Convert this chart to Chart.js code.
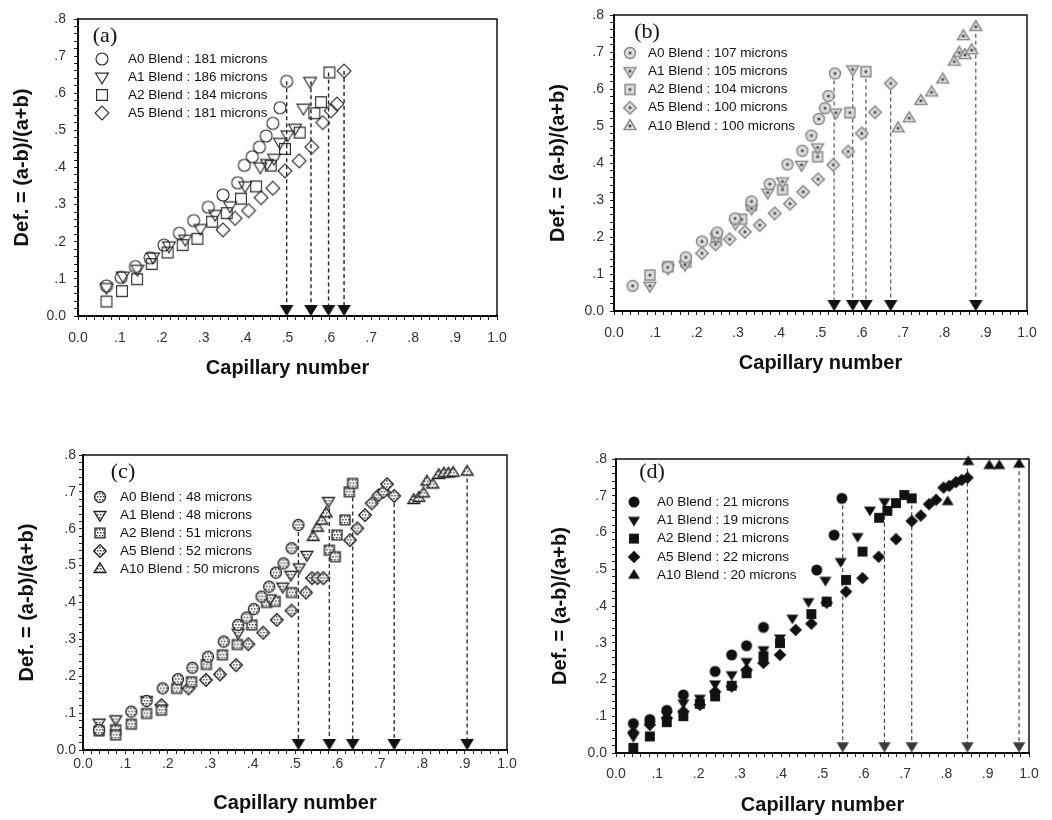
<!DOCTYPE html>
<html>
<head>
<meta charset="utf-8">
<script src="https://cdn.jsdelivr.net/npm/chart.js@4.4.1/dist/chart.umd.min.js"></script>
<style>
html, body { margin: 0; padding: 0; background: #fff; }
#wrap { position: relative; width: 1052px; height: 820px; overflow: hidden; }
canvas { position: absolute; }
</style>
</head>
<body>
<div id="wrap">
  <canvas id="pa" width="520" height="400" style="left:0;top:0"></canvas>
  <canvas id="pb" width="527" height="400" style="left:525px;top:0"></canvas>
  <canvas id="pc" width="520" height="400" style="left:0;top:420px"></canvas>
  <canvas id="pd" width="527" height="400" style="left:525px;top:420px"></canvas>
</div>
<script>
// tick labels shared by all four panels
const xTickLabels = ['0.0', '.1', '.2', '.3', '.4', '.5', '.6', '.7', '.8', '.9', '1.0'];
const yTickLabels = ['0.0', '.1', '.2', '.3', '.4', '.5', '.6', '.7', '.8'];
const arrowLevel = 0.019;

// (a) 181-186 microns
const aLabels = ['A0 Blend : 181 microns', 'A1 Blend : 186 microns', 'A2 Blend : 184 microns', 'A5 Blend : 181 microns'];
const aA0 = [[0.068,0.081],[0.103,0.104],[0.137,0.133],[0.172,0.157],[0.205,0.191],[0.242,0.223],[0.276,0.257],[0.311,0.293],[0.346,0.326],[0.381,0.359],[0.397,0.406],[0.416,0.429],[0.433,0.455],[0.449,0.485],[0.465,0.519],[0.482,0.561],[0.498,0.632]];
const aA1 = [[0.068,0.077],[0.107,0.108],[0.142,0.126],[0.179,0.159],[0.217,0.189],[0.256,0.207],[0.292,0.236],[0.327,0.274],[0.363,0.297],[0.399,0.351],[0.435,0.402],[0.451,0.411],[0.468,0.425],[0.482,0.468],[0.500,0.488],[0.518,0.506],[0.538,0.560],[0.554,0.632]];
const aA2 = [[0.068,0.039],[0.105,0.067],[0.141,0.099],[0.176,0.140],[0.214,0.171],[0.250,0.191],[0.285,0.208],[0.320,0.254],[0.355,0.277],[0.389,0.316],[0.425,0.349],[0.460,0.405],[0.494,0.450],[0.529,0.494],[0.564,0.546],[0.580,0.576],[0.600,0.656]];
const aA5 = [[0.346,0.232],[0.375,0.263],[0.407,0.284],[0.437,0.319],[0.465,0.344],[0.494,0.391],[0.528,0.418],[0.558,0.455],[0.584,0.521],[0.604,0.553],[0.618,0.571],[0.635,0.660]];
const aArrowX = [0.498, 0.556, 0.598, 0.635];
const aArrowTop = [0.632, 0.632, 0.656, 0.660];

// (b) 100-107 microns
const bLabels = ['A0 Blend : 107 microns', 'A1 Blend : 105 microns', 'A2 Blend : 104 microns', 'A5 Blend : 100 microns', 'A10 Blend : 100 microns'];
const bA0 = [[0.045,0.068],[0.130,0.118],[0.174,0.145],[0.213,0.188],[0.250,0.212],[0.293,0.250],[0.333,0.296],[0.377,0.343],[0.420,0.396],[0.456,0.433],[0.478,0.474],[0.496,0.519],[0.511,0.548],[0.519,0.581],[0.535,0.642]];
const bA1 = [[0.087,0.068],[0.131,0.115],[0.172,0.125],[0.248,0.200],[0.294,0.236],[0.333,0.277],[0.372,0.320],[0.408,0.350],[0.454,0.395],[0.493,0.442],[0.537,0.536],[0.578,0.653]];
const bA2 = [[0.087,0.097],[0.131,0.120],[0.174,0.132],[0.248,0.200],[0.309,0.248],[0.333,0.285],[0.408,0.328],[0.493,0.417],[0.571,0.536],[0.610,0.647]];
const bA5 = [[0.213,0.156],[0.246,0.180],[0.280,0.194],[0.317,0.214],[0.353,0.232],[0.389,0.264],[0.426,0.290],[0.458,0.322],[0.494,0.356],[0.531,0.395],[0.567,0.431],[0.600,0.480],[0.632,0.537],[0.670,0.615]];
const bA10 = [[0.688,0.494],[0.715,0.521],[0.743,0.568],[0.769,0.591],[0.796,0.626],[0.824,0.674],[0.836,0.698],[0.850,0.692],[0.866,0.705],[0.846,0.743],[0.876,0.768]];
const bArrowX = [0.533, 0.578, 0.610, 0.670, 0.876];
const bArrowTop = [0.642, 0.653, 0.647, 0.615, 0.768];

// (c) 48-52 microns
const cLabels = ['A0 Blend : 48 microns', 'A1 Blend : 48 microns', 'A2 Blend : 51 microns', 'A5 Blend : 52 microns', 'A10 Blend : 50 microns'];
const cA0 = [[0.038,0.054],[0.114,0.104],[0.150,0.133],[0.188,0.167],[0.224,0.192],[0.258,0.223],[0.295,0.253],[0.332,0.294],[0.366,0.339],[0.386,0.359],[0.403,0.382],[0.421,0.416],[0.439,0.443],[0.455,0.481],[0.473,0.506],[0.492,0.547],[0.508,0.610]];
const cA1 = [[0.038,0.074],[0.077,0.083],[0.150,0.135],[0.366,0.318],[0.441,0.411],[0.471,0.443],[0.490,0.475],[0.510,0.495],[0.528,0.529],[0.579,0.675]];
const cA2 = [[0.038,0.052],[0.077,0.055],[0.077,0.041],[0.114,0.070],[0.150,0.099],[0.185,0.108],[0.221,0.167],[0.256,0.185],[0.291,0.232],[0.329,0.258],[0.364,0.286],[0.398,0.339],[0.433,0.400],[0.453,0.403],[0.492,0.427],[0.581,0.542],[0.595,0.524],[0.599,0.583],[0.618,0.624],[0.628,0.700],[0.636,0.723]];
const cA5 = [[0.185,0.122],[0.249,0.167],[0.290,0.190],[0.323,0.205],[0.361,0.230],[0.390,0.287],[0.425,0.318],[0.457,0.353],[0.492,0.378],[0.526,0.427],[0.540,0.466],[0.553,0.466],[0.567,0.466],[0.630,0.569],[0.647,0.601],[0.665,0.637],[0.681,0.669],[0.697,0.691],[0.709,0.700],[0.717,0.721],[0.734,0.689]];
const cA10 = [[0.543,0.578],[0.553,0.603],[0.563,0.622],[0.573,0.642],[0.780,0.678],[0.792,0.684],[0.803,0.696],[0.811,0.728],[0.825,0.720],[0.839,0.746],[0.851,0.750],[0.862,0.750],[0.873,0.752],[0.906,0.755]];
const cArrowX = [0.508, 0.581, 0.636, 0.734, 0.906];
const cArrowTop = [0.610, 0.675, 0.723, 0.689, 0.755];

// (d) 19-22 microns
const dLabels = ['A0 Blend : 21 microns', 'A1 Blend : 19 microns', 'A2 Blend : 21 microns', 'A5 Blend : 22 microns', 'A10 Blend : 20 microns'];
const dA0 = [[0.042,0.080],[0.082,0.091],[0.123,0.116],[0.163,0.158],[0.240,0.222],[0.280,0.267],[0.316,0.292],[0.357,0.342],[0.486,0.498],[0.528,0.593],[0.547,0.693]];
const dA1 = [[0.042,0.045],[0.082,0.077],[0.123,0.104],[0.163,0.136],[0.203,0.149],[0.240,0.188],[0.280,0.213],[0.316,0.249],[0.357,0.281],[0.397,0.313],[0.427,0.367],[0.466,0.412],[0.507,0.470],[0.544,0.521],[0.585,0.589],[0.615,0.661],[0.650,0.684]];
const dA2 = [[0.042,0.014],[0.082,0.045],[0.123,0.084],[0.163,0.100],[0.203,0.134],[0.240,0.154],[0.280,0.183],[0.316,0.217],[0.357,0.263],[0.397,0.299],[0.473,0.378],[0.510,0.412],[0.557,0.471],[0.597,0.548],[0.637,0.640],[0.657,0.659],[0.678,0.680],[0.698,0.702],[0.716,0.693]];
const dA5 = [[0.042,0.056],[0.082,0.077],[0.123,0.095],[0.163,0.113],[0.203,0.131],[0.240,0.167],[0.280,0.181],[0.316,0.226],[0.357,0.245],[0.397,0.267],[0.435,0.335],[0.473,0.352],[0.510,0.409],[0.557,0.439],[0.597,0.476],[0.636,0.534],[0.678,0.582],[0.716,0.631],[0.738,0.646],[0.758,0.677],[0.775,0.689],[0.793,0.722],[0.807,0.727],[0.823,0.737],[0.837,0.743],[0.851,0.749]];
const dA10 = [[0.803,0.684],[0.853,0.793],[0.904,0.782],[0.928,0.782],[0.976,0.786]];
const dArrowX = [0.549, 0.650, 0.716, 0.851, 0.976];
const dArrowTop = [0.693, 0.684, 0.693, 0.793, 0.786];

const fam = '"Liberation Sans", Arial, sans-serif';

// small canvas markers, used both in the plot and in the legend
function marker(shape, o) {
  const s = o.size || 16, r = o.r || 5.5, m = s / 2;
  const c = document.createElement('canvas');
  c.width = s; c.height = s;
  const g = c.getContext('2d');
  g.beginPath();
  if (shape === 'circle') g.arc(m, m, r, 0, Math.PI * 2);
  else if (shape === 'square') g.rect(m - r * 0.9, m - r * 0.9, r * 1.8, r * 1.8);
  else if (shape === 'diamond') {
    g.moveTo(m, m - r * 1.15); g.lineTo(m + r * 1.15, m);
    g.lineTo(m, m + r * 1.15); g.lineTo(m - r * 1.15, m); g.closePath();
  } else if (shape === 'down') {
    g.moveTo(m - r, m - r * 0.6); g.lineTo(m + r, m - r * 0.6); g.lineTo(m, m + r * 1.05); g.closePath();
  } else if (shape === 'up') {
    g.moveTo(m - r, m + r * 0.6); g.lineTo(m + r, m + r * 0.6); g.lineTo(m, m - r * 1.05); g.closePath();
  }
  if (o.fill) { g.fillStyle = o.fill; g.fill(); }
  if (o.dots) {
    g.save(); g.clip(); g.fillStyle = o.dots;
    for (let y = 1; y < s; y += 3) for (let x = 1 + (y % 2); x < s; x += 3) g.fillRect(x, y, 1.5, 1.5);
    g.restore();
  }
  if (o.dot) { g.fillStyle = o.dot; g.fillRect(m - 1.3, m - 1.3, 2.6, 2.6); }
  if (o.stroke) { g.lineWidth = o.lw || 1.1; g.strokeStyle = o.stroke; g.stroke(); }
  return c;
}

const shapes = ['circle', 'down', 'square', 'diamond', 'up'];
const styleA = { stroke: '#2a2a2a', lw: 1.1, r: 6 };
const styleB = { stroke: '#858585', fill: '#dcdcdc', dot: '#4a4a4a', lw: 1.4, r: 5.5 };
const styleC = { stroke: '#1e1e1e', fill: '#fff', dots: '#3a3a3a', lw: 1.3, r: 5.5 };
const styleD = { fill: '#111', r: 5.5 };
const markSet = st => shapes.map(sh => marker(sh, Object.assign({}, st, { r: sh === 'down' || sh === 'up' ? st.r + 0.5 : st.r })));

function tickFmt(labels) {
  return v => {
    const k = Math.round(v * 50);
    return k % 5 === 0 ? labels[k / 5] : '';
  };
}

const inlineLegend = {
  id: 'inlineLegend',
  afterDraw(chart, args, o) {
    const { ctx, chartArea: a } = chart;
    ctx.save();
    ctx.strokeStyle = '#111';
    ctx.lineWidth = 1.5;
    ctx.strokeRect(a.left, a.top, a.right - a.left, a.bottom - a.top);
    ctx.fillStyle = '#111';
    ctx.font = '22px "Liberation Serif", "Times New Roman", serif';
    ctx.textAlign = 'center';
    ctx.textBaseline = 'middle';
    ctx.fillText(o.tag, a.left + o.tagX, a.top + o.tagY);
    ctx.font = '13.5px ' + fam;
    ctx.textAlign = 'left';
    chart.data.datasets.filter(d => d.inLegend).forEach((d, i) => {
      const y = a.top + o.y0 + i * o.dy;
      const img = d.pointStyle;
      ctx.drawImage(img, a.left + o.mx - img.width / 2, y - img.height / 2);
      ctx.fillText(d.label, a.left + o.tx, y);
    });
    ctx.restore();
  }
};

function buildPanel(p) {
  const marks = markSet(p.style);
  const datasets = p.series.map((pts, i) => ({
    label: p.labels[i],
    data: pts.map(q => ({ x: q[0], y: q[1] })),
    pointStyle: marks[i],
    pointRadius: 5,
    clip: false,
    inLegend: true
  }));
  const arrowMark = marker('down', { r: p.arrowR, size: 20, fill: p.arrowColor });
  datasets.push({
    label: 'arrows',
    data: p.arrowX.map(x => ({ x: x, y: arrowLevel })),
    pointStyle: arrowMark,
    pointRadius: 5,
    clip: false
  });
  p.arrowX.forEach((x, i) => {
    datasets.push({
      label: 'guide',
      data: [{ x: x, y: p.arrowTop[i] }, { x: x, y: arrowLevel }],
      showLine: true,
      borderColor: p.dashColor,
      borderWidth: p.dashWidth,
      borderDash: [4, 3],
      pointRadius: 0,
      clip: false
    });
  });

  return new Chart(document.getElementById(p.id), {
    type: 'scatter',
    data: { datasets: datasets },
    options: {
      responsive: false,
      animation: false,
      devicePixelRatio: 1,
      layout: { padding: { left: 0, top: p.padTop, right: p.padRight, bottom: 0 } },
      plugins: {
        legend: { display: false },
        tooltip: { enabled: false },
        inlineLegend: p.legend
      },
      scales: {
        x: {
          type: 'linear', min: 0, max: 1,
          afterFit: s => { s.height = p.xH; },
          border: { display: true, color: '#000', width: 2 },
          grid: { drawOnChartArea: false, drawTicks: true, tickLength: 4, color: '#222' },
          ticks: {
            stepSize: 0.02, autoSkip: false, maxRotation: 0, padding: p.xPad,
            color: p.tickColor, font: { family: fam, size: 14 },
            callback: tickFmt(xTickLabels)
          },
          title: {
            display: true, text: 'Capillary number', color: '#111',
            font: { family: fam, size: 20, weight: 'bold' },
            padding: { top: 0, bottom: p.xTitlePad }
          }
        },
        y: {
          type: 'linear', min: 0, max: 0.8,
          afterFit: s => { s.width = p.yW; },
          border: { display: true, color: '#000', width: 2 },
          grid: { drawOnChartArea: false, drawTicks: true, tickLength: 4, color: '#222' },
          ticks: {
            stepSize: 0.02, autoSkip: false, padding: p.yPad,
            color: p.tickColor, font: { family: fam, size: 14 },
            callback: tickFmt(yTickLabels)
          },
          title: {
            display: true, text: 'Def. = (a-b)/(a+b)', color: '#111',
            font: { family: fam, size: 20, weight: 'bold' },
            padding: { top: p.yTitlePad, bottom: 0 }
          }
        }
      }
    },
    plugins: [inlineLegend]
  });
}

buildPanel({
  id: 'pa', series: [aA0, aA1, aA2, aA5], labels: aLabels, style: styleA,
  arrowX: aArrowX, arrowTop: aArrowTop, arrowR: 6.8, arrowColor: '#111',
  dashColor: '#222', dashWidth: 1.4,
  padTop: 19, padRight: 23, xH: 84, yW: 78, xPad: 10, yPad: 8,
  xTitlePad: 20, yTitlePad: 10, tickColor: '#333',
  legend: { tag: '(a)', tagX: 27, tagY: 17, mx: 24, tx: 50, y0: 40, dy: 18 }
});

buildPanel({
  id: 'pb', series: [bA0, bA1, bA2, bA5, bA10], labels: bLabels, style: styleB,
  arrowX: bArrowX, arrowTop: bArrowTop, arrowR: 6.8, arrowColor: '#111',
  dashColor: '#555', dashWidth: 1.2,
  padTop: 15, padRight: 25, xH: 89, yW: 89, xPad: 10, yPad: 6,
  xTitlePad: 25, yTitlePad: 21, tickColor: '#333',
  legend: { tag: '(b)', tagX: 33, tagY: 17, mx: 16, tx: 34, y0: 38, dy: 18.25 }
});

buildPanel({
  id: 'pc', series: [cA0, cA1, cA2, cA5, cA10], labels: cLabels, style: styleC,
  arrowX: cArrowX, arrowTop: cArrowTop, arrowR: 6.8, arrowColor: '#111',
  dashColor: '#333', dashWidth: 1.4,
  padTop: 35, padRight: 13, xH: 70, yW: 83, xPad: 2, yPad: 3,
  xTitlePad: 5, yTitlePad: 15, tickColor: '#333',
  legend: { tag: '(c)', tagX: 40, tagY: 17, mx: 17, tx: 37, y0: 42, dy: 18 }
});

buildPanel({
  id: 'pd', series: [dA0, dA1, dA2, dA5, dA10], labels: dLabels, style: styleD,
  arrowX: dArrowX, arrowTop: dArrowTop, arrowR: 6.2, arrowColor: '#3a3a3a',
  dashColor: '#444', dashWidth: 1.2,
  padTop: 39, padRight: 23, xH: 67, yW: 91, xPad: 9, yPad: 5,
  xTitlePad: 3, yTitlePad: 23, tickColor: '#333',
  legend: { tag: '(d)', tagX: 36, tagY: 13, mx: 18, tx: 41, y0: 43, dy: 18.3 }
});
</script>
</body>
</html>
